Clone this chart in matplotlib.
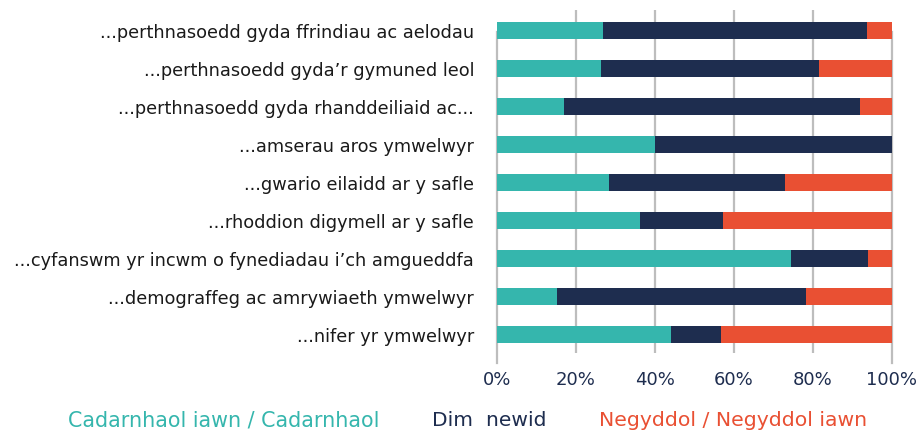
import matplotlib
matplotlib.use("Agg")
import matplotlib.pyplot as plt
import numpy as np

categories = [
    "...perthnasoedd gyda ffrindiau ac aelodau",
    "...perthnasoedd gyda\u2019r gymuned leol",
    "...perthnasoedd gyda rhanddeiliaid ac...",
    "...amserau aros ymwelwyr",
    "...gwario eilaidd ar y safle",
    "...rhoddion digymell ar y safle",
    "...cyfanswm yr incwm o fynediadau i\u2019ch amgueddfa",
    "...demograffeg ac amrywiaeth ymwelwyr",
    "...nifer yr ymwelwyr",
]
positive = [26.8, 26.3, 17.0, 40.0, 28.4, 36.2, 74.4, 15.2, 44.1]
no_change = [66.9, 55.2, 74.9, 60.0, 44.5, 21.0, 19.5, 63.0, 12.6]
negative = [6.3, 18.5, 8.1, 0.0, 27.1, 42.8, 6.1, 21.8, 43.3]
series_names = ["Cadarnhaol iawn / Cadarnhaol", "Dim  newid", "Negyddol / Negyddol iawn"]
tick_vals = [0, 20, 40, 60, 80, 100]
tick_labels = ["0%", "20%", "40%", "60%", "80%", "100%"]

colors = ["#35b6ad", "#1e2d4f", "#e95033"]
grid_c = "#bdbdbd"
plt.rcParams["font.family"] = ["DejaVu Sans"]

W, H = 922, 432
fig = plt.figure(figsize=(W / 100, H / 100), dpi=100)
x0, x1 = 497, 892
ytop, ybot = 10, 353
ax = fig.add_axes([x0 / W, 1 - ybot / H, (x1 - x0) / W, (ybot - ytop) / H])

y = np.arange(len(categories))
left = np.zeros(len(categories))
for vals, c, name in zip([positive, no_change, negative], colors, series_names):
    ax.barh(y, vals, left=left, height=0.447, color=c, label=name, zorder=3)
    left = left + np.array(vals)

ax.set_xlim(0, 100)
ax.set_ylim(8 + 18.5 / 38, -20.5 / 38)
for s in ax.spines.values():
    s.set_visible(False)

# gridlines
for v in tick_vals[1:-1]:
    ax.axvline(v, color=grid_c, lw=1.6, zorder=1)
for v in (0, 100):
    ax.plot([v, v], [(353 - 363) / 343, (353 - 32) / 343], color=grid_c, lw=1.6,
            transform=ax.get_xaxis_transform(), clip_on=False, zorder=1)

ax.set_xticks(tick_vals)
ax.set_xticklabels(tick_labels, fontsize=13, color="#1e2d4f")
ax.tick_params(axis="x", length=0, pad=13)
ax.set_yticks(y)
ax.set_yticklabels(categories, fontsize=12.8, color="#1a1a1a")
ax.tick_params(axis="y", length=0, pad=16.5)

# legend as coloured text
leg_x = [68, 432, 599]
leg_size = [14.9, 14.6, 14.7]
for name, c, lx, fs in zip(series_names, colors, leg_x, leg_size):
    fig.text(lx / W, 1 - 421 / H, name, color=c, fontsize=fs, ha="left", va="center")

fig.savefig("out.png", dpi=100, facecolor="white")
